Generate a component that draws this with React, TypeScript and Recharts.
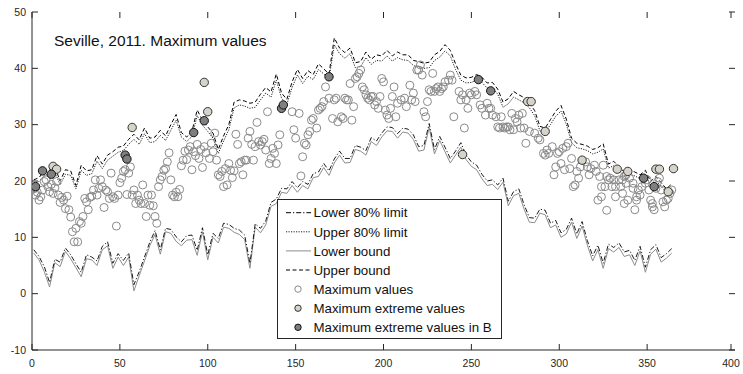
import React from 'react'
import { ComposedChart, Line, Scatter, XAxis, YAxis } from 'recharts'

const WIDTH = 743
const HEIGHT = 374
const PLOT_LEFT = 32
const PLOT_RIGHT = 735
const PLOT_TOP = 12
const PLOT_BOTTOM = 350
const TICK_LEN = 6
const AXIS_COLOR = '#262626'
const FONT = '"Liberation Sans", Arial, Helvetica, sans-serif'

const X_TICKS = [0, 50, 100, 150, 200, 250, 300, 350, 400]
const Y_TICKS = [-10, 0, 10, 20, 30, 40, 50]

// bounds are sampled every third day of the year (1, 4, 7, ... 364)
const BOUND_DAYS = Array.from({ length: 122 }, (_, i) => 1 + 3 * i)

const LOWER_BOUND = [
  7.2, 6.0, 3.9, 1.2, 5.5, 4.8, 7.5, 6.2, 4.6, 3.0,
  6.2, 6.0, 5.0, 7.8, 8.5, 4.5, 6.5, 5.0, 6.5, 0.5,
  3.2, 5.8, 8.5, 10.5, 7.0, 11.0, 10.7, 9.3, 8.5, 9.5,
  9.6, 6.8, 11.0, 6.0, 10.0, 9.0, 11.8, 11.6, 10.9, 10.5,
  9.6, 4.5, 11.8, 10.8, 12.2, 15.5, 16.0, 18.0, 17.8, 19.2,
  18.0, 19.2, 18.6, 20.6, 20.8, 22.4, 21.0, 23.2, 24.6, 23.2,
  23.3, 25.6, 25.3, 24.6, 27.0, 26.3, 27.8, 28.9, 28.8, 27.6,
  28.7, 28.5, 27.4, 25.3, 25.5, 29.5, 24.8, 27.2, 25.2, 23.2,
  24.6, 26.0, 23.8, 22.6, 22.0, 20.4, 19.2, 19.4, 18.5, 19.8,
  15.6, 17.4, 17.8, 15.0, 12.7, 12.6, 14.3, 14.0, 11.7, 12.2,
  10.0, 10.6, 12.7, 9.8, 12.0, 8.6, 5.8, 7.8, 4.5, 8.0,
  7.4, 8.2, 6.6, 6.9, 5.0, 7.6, 3.8, 7.0, 7.9, 5.6,
  6.3, 7.2,
]

const LOWER_80 = [
  7.8, 6.6, 4.8, 2.0, 6.1, 5.6, 8.1, 6.9, 5.3, 3.8,
  6.9, 6.5, 5.8, 8.4, 9.2, 5.4, 7.1, 5.9, 7.2, 1.6,
  3.9, 6.5, 9.1, 11.2, 7.8, 11.6, 11.4, 10.1, 9.2, 10.3,
  10.4, 7.7, 11.7, 6.9, 10.7, 9.8, 12.5, 12.3, 11.6, 11.3,
  10.4, 5.4, 12.4, 11.6, 12.9, 16.2, 16.8, 18.7, 18.6, 19.9,
  18.8, 19.9, 19.4, 21.3, 21.6, 23.1, 21.8, 23.9, 25.3, 24.0,
  24.0, 26.3, 26.0, 25.4, 27.7, 27.1, 28.5, 29.6, 29.5, 28.4,
  29.4, 29.2, 28.2, 26.1, 26.3, 30.2, 25.6, 27.9, 26.0, 24.0,
  25.3, 26.8, 24.6, 23.4, 22.8, 21.2, 20.0, 20.2, 19.3, 20.5,
  16.4, 18.1, 18.6, 15.8, 13.5, 13.4, 15.0, 14.8, 12.5, 13.0,
  10.8, 11.4, 13.4, 10.6, 12.8, 9.4, 6.7, 8.6, 5.4, 8.8,
  8.2, 9.0, 7.4, 7.7, 5.9, 8.4, 4.7, 7.8, 8.7, 6.4,
  7.1, 8.0,
]

const UPPER_BOUND = [
  20.2, 20.6, 21.8, 22.0, 22.5, 20.0, 22.0, 21.8, 19.2, 22.8,
  21.8, 22.0, 24.5, 23.0, 24.6, 25.2, 26.0, 26.2, 27.4, 28.3,
  27.3, 29.4, 27.6, 27.8, 29.0, 28.0, 30.0, 31.8, 28.6, 27.8,
  28.8, 32.6, 30.8, 29.6, 28.5, 25.6, 28.0, 30.0, 34.0, 34.4,
  34.2, 33.8, 34.0, 35.4, 36.6, 35.8, 39.0, 35.6, 34.5, 37.6,
  39.8, 38.2, 39.6, 38.9, 40.8, 39.9, 39.0, 45.4, 43.6, 42.8,
  43.6, 41.0, 41.2, 42.9, 41.6, 42.4, 42.2, 43.2, 42.2, 42.9,
  42.4, 42.4, 41.4, 41.2, 40.9, 41.1, 42.4, 43.0, 44.2, 43.2,
  40.8, 38.8, 38.3, 38.4, 38.9, 38.4, 37.4, 37.5, 36.3, 34.0,
  34.6, 35.9, 35.3, 34.8, 33.9, 32.5, 29.7, 29.4, 30.9, 32.4,
  33.4, 31.0, 27.6, 26.7, 26.5, 26.2, 25.6, 25.9, 26.6, 23.0,
  23.5, 22.5, 21.6, 21.9, 21.6, 21.1, 21.9, 19.9, 20.8, 19.7,
  18.6, 19.5,
]

const UPPER_80 = [
  19.6, 19.9, 21.0, 21.2, 21.6, 19.3, 21.2, 21.0, 18.6, 21.9,
  21.0, 21.3, 23.5, 22.2, 23.7, 24.4, 25.1, 25.4, 26.5, 27.4,
  26.5, 28.4, 26.8, 27.0, 28.1, 27.2, 29.0, 30.8, 27.8, 27.0,
  27.9, 31.6, 29.9, 28.8, 27.6, 24.9, 27.1, 29.1, 33.0, 33.5,
  33.3, 32.9, 33.1, 34.4, 35.6, 34.9, 37.9, 34.7, 33.6, 36.6,
  38.8, 37.3, 38.6, 38.0, 39.8, 39.0, 38.1, 44.2, 42.6, 41.8,
  42.6, 40.1, 40.3, 41.9, 40.7, 41.4, 41.3, 42.2, 41.3, 41.9,
  41.5, 41.4, 40.5, 40.3, 40.0, 40.1, 41.4, 42.0, 43.1, 42.2,
  39.8, 37.9, 37.4, 37.5, 37.9, 37.5, 36.5, 36.6, 35.4, 33.1,
  33.7, 34.9, 34.4, 33.9, 33.0, 31.6, 28.9, 28.6, 30.0, 31.5,
  32.4, 30.1, 26.8, 25.9, 25.7, 25.4, 24.8, 25.1, 25.7, 22.3,
  22.7, 21.8, 20.9, 21.2, 20.9, 20.4, 21.2, 19.2, 20.1, 19.0,
  18.0, 18.8,
]

// daily maximum temperatures, [day, °C]
const MAX_VALUES: [number, number][] = [
  [1, 18.6], [2, 17.5], [3, 18.0], [4, 16.6], [5, 17.2], [6, 18.4], [7, 19.9], [8, 20.2], [9, 19.0], [10, 18.1],
  [11, 19.4], [12, 17.8], [13, 18.8], [14, 19.9], [15, 17.5], [16, 16.2], [17, 17.1], [18, 16.6], [19, 15.1], [20, 17.3],
  [21, 14.9], [22, 13.6], [23, 11.0], [24, 9.2], [25, 11.6], [26, 9.2], [27, 12.8], [28, 12.5], [29, 13.7], [30, 16.9],
  [31, 16.3], [32, 14.9], [33, 17.1], [34, 17.3], [35, 18.4], [36, 20.2], [37, 17.5], [38, 18.7], [39, 20.2], [40, 19.0],
  [41, 15.3], [42, 18.4], [43, 18.1], [44, 16.9], [45, 21.4], [46, 17.2], [47, 16.9], [48, 12.0], [49, 17.5], [50, 19.7],
  [51, 20.5], [52, 21.7], [53, 22.0], [54, 17.6], [55, 21.4], [56, 22.5], [57, 17.5], [58, 18.4], [59, 16.0], [60, 17.5],
  [61, 16.6], [62, 16.0], [63, 19.3], [64, 16.0], [65, 13.7], [66, 17.5], [67, 15.7],
  [68, 17.5], [69, 15.6], [70, 13.7], [71, 12.5], [72, 19.0], [73, 20.2], [74, 20.8], [75, 21.9], [76, 22.2], [77, 23.4],
  [78, 25.0], [79, 20.2], [80, 17.5], [81, 17.2], [82, 18.0], [83, 17.2], [84, 18.5], [85, 22.7], [86, 23.7], [87, 25.3],
  [88, 23.8], [89, 25.5], [90, 26.1], [91, 22.0], [92, 25.2], [93, 24.5], [94, 26.5], [95, 24.0], [96, 25.6], [97, 22.4],
  [98, 26.1], [99, 25.0], [101, 24.0], [102, 26.7], [103, 25.2], [104, 28.5], [105, 23.7], [106, 21.1], [107, 20.8], [108, 21.7],
  [109, 19.0], [110, 22.2], [111, 19.3], [112, 23.1], [113, 21.9], [114, 20.6], [115, 21.8], [116, 28.3], [117, 26.5], [118, 23.1],
  [119, 23.4], [120, 21.1], [121, 23.7], [122, 23.7], [123, 27.6], [124, 28.8], [125, 26.5], [126, 23.7], [127, 26.1], [128, 30.4],
  [129, 27.0], [130, 26.4], [131, 27.0], [132, 27.4], [133, 25.5], [134, 32.3], [135, 23.1], [136, 24.0], [137, 25.8],
  [138, 24.9], [139, 23.1], [140, 26.4], [141, 28.2], [148, 32.3], [149, 29.1], [150, 27.6], [152, 32.0], [153, 20.9], [154, 24.3],
  [155, 26.7], [156, 26.4], [157, 28.2], [158, 28.8], [159, 30.8], [160, 31.1], [162, 29.4], [163, 32.6], [164, 32.9], [165, 33.2],
  [166, 34.1], [167, 36.7], [169, 34.7], [171, 31.1], [172, 34.4], [173, 34.7], [174, 30.5], [176, 31.4], [177, 31.1], [178, 34.7],
  [179, 34.4], [180, 34.4], [181, 37.3], [182, 30.8], [183, 33.2], [184, 38.2], [185, 38.5], [186, 39.1], [187, 39.7], [188, 36.7],
  [189, 36.2], [190, 35.3], [191, 34.7], [192, 34.4], [193, 35.0], [194, 35.0], [195, 33.5], [196, 34.1], [197, 32.9], [198, 35.0],
  [199, 38.2], [200, 37.6], [201, 32.6], [202, 31.7], [203, 31.1], [204, 32.9], [205, 35.0],
  [206, 36.7], [207, 31.4], [208, 33.8], [210, 34.4], [212, 34.7], [213, 33.2], [215, 37.0], [216, 34.4], [217, 35.6], [218, 34.1],
  [219, 39.7], [220, 39.7], [221, 40.6], [222, 38.8], [223, 32.3], [224, 31.4], [225, 34.1], [226, 36.2], [227, 35.9], [228, 39.1],
  [229, 35.9], [230, 36.4], [231, 36.7], [232, 35.9], [233, 36.4], [234, 36.7], [235, 37.6], [237, 37.9], [238, 38.8], [239, 37.9],
  [240, 31.4], [243, 35.9], [244, 34.4], [245, 35.3], [246, 29.4], [247, 34.4], [248, 32.9], [249, 35.6], [250, 35.3], [252, 35.9],
  [253, 35.3], [255, 33.5], [256, 32.9], [258, 31.7], [259, 33.8], [260, 32.9], [261, 32.9], [262, 31.7], [264, 31.4], [265, 29.6],
  [266, 29.4], [267, 31.4], [268, 29.6], [269, 29.4], [270, 29.6], [271, 29.6], [272, 29.1], [274, 29.1],
  [273, 32.0], [275, 31.1], [276, 30.5], [277, 31.7], [278, 29.4], [279, 32.0], [280, 29.4], [281, 26.7], [283, 28.8], [286, 28.5],
  [288, 27.6], [289, 27.3], [291, 24.9], [292, 24.6], [293, 25.5], [294, 24.9], [296, 26.1], [297, 21.1], [298, 22.5], [299, 24.9],
  [300, 25.2], [301, 23.1], [302, 25.8], [303, 22.0], [304, 26.1], [305, 26.7], [306, 22.2], [307, 24.0], [308, 19.0], [309, 19.3],
  [310, 21.7], [311, 20.5], [312, 22.5], [315, 23.4], [316, 22.5], [317, 21.1], [318, 22.2], [320, 22.8], [321, 21.7], [322, 16.6],
  [323, 20.8], [324, 19.0], [325, 22.8], [326, 19.0], [327, 20.8], [328, 20.2], [329, 20.5], [330, 19.0], [331, 20.2], [332, 19.0],
  [334, 20.2], [335, 19.0], [336, 20.2], [337, 20.8], [324, 17.2], [327, 14.8], [332, 17.2], [336, 17.8], [337, 16.0],
  [338, 21.1], [340, 20.5], [342, 19.6], [338, 19.6], [339, 16.6], [342, 18.7], [345, 18.4], [346, 17.5], [344, 16.6], [344, 17.2],
  [343, 14.9], [347, 19.0], [349, 19.6], [350, 20.2], [351, 18.4], [352, 16.6], [353, 15.4], [353, 16.0], [354, 14.9], [355, 18.7],
  [356, 19.9], [357, 20.5], [358, 18.4], [359, 16.3], [360, 15.4], [361, 16.6], [362, 16.9], [363, 17.8], [364, 18.4],
]

const MAX_EXTREME: [number, number][] = [
  [12, 22.6], [14, 22.1], [57, 29.5], [98, 37.5], [100, 32.3], [245, 24.7], [282, 34.1], [284, 34.1],
  [292, 28.8], [313, 23.7], [333, 22.1], [339, 21.7], [355, 22.1], [357, 22.1], [362, 18.1], [365, 22.2],
]

const MAX_EXTREME_B: [number, number][] = [
  [2, 19.0], [6, 21.8], [11, 21.2], [53, 24.6], [54, 23.9], [92, 28.6], [98, 30.7],
  [142, 32.9], [143, 33.5], [169, 38.5], [254, 38.0], [261, 36.0], [348, 20.5], [354, 19.0],
]

const toSeries = (values: number[]) => BOUND_DAYS.map((day, i) => ({ day, value: values[i] }))
const toPoints = (pairs: [number, number][]) => pairs.map(([day, value]) => ({ day, value }))

const LINE_STYLES = {
  lower80: { stroke: '#000', dash: '5 2 1.2 2' },
  upper80: { stroke: '#222', dash: '1.2 1.3' },
  lowerBound: { stroke: '#8c8c8c', dash: undefined },
  upperBound: { stroke: '#000', dash: '4 2.5' },
}

const EXTREME_FILL = '#d6d3c9'
const EXTREME_B_FILL = '#7f7f7f'

function XTick({ x, payload }: any) {
  return (
    <g>
      <line x1={x} x2={x} y1={PLOT_BOTTOM} y2={PLOT_BOTTOM - TICK_LEN} stroke={AXIS_COLOR} />
      <line x1={x} x2={x} y1={PLOT_TOP} y2={PLOT_TOP + TICK_LEN} stroke={AXIS_COLOR} />
      <text x={x} y={PLOT_BOTTOM + 17} textAnchor="middle" fontSize={10.5} fontFamily={FONT} fill={AXIS_COLOR}>
        {payload.value}
      </text>
    </g>
  )
}

function YTick({ y, payload }: any) {
  return (
    <g>
      <line x1={PLOT_LEFT} x2={PLOT_LEFT + TICK_LEN} y1={y} y2={y} stroke={AXIS_COLOR} />
      <line x1={PLOT_RIGHT} x2={PLOT_RIGHT - TICK_LEN} y1={y} y2={y} stroke={AXIS_COLOR} />
      <text x={PLOT_LEFT - 6} y={y} dy="0.35em" textAnchor="end" fontSize={10.5} fontFamily={FONT} fill={AXIS_COLOR}>
        {payload.value}
      </text>
    </g>
  )
}

const openCircle = (props: any) => (
  <circle cx={props.cx} cy={props.cy} r={4} fill="none" stroke="#8a8a8a" strokeWidth={1} />
)
const extremeCircle = (props: any) => (
  <circle cx={props.cx} cy={props.cy} r={4.2} fill={EXTREME_FILL} stroke="#333" strokeWidth={1} />
)
const extremeBCircle = (props: any) => (
  <circle cx={props.cx} cy={props.cy} r={4.2} fill={EXTREME_B_FILL} stroke="#111" strokeWidth={1} />
)

const LEGEND_ROWS = [
  { label: 'Lower 80% limit', kind: 'line', style: LINE_STYLES.lower80 },
  { label: 'Upper 80% limit', kind: 'line', style: LINE_STYLES.upper80 },
  { label: 'Lower bound', kind: 'line', style: LINE_STYLES.lowerBound },
  { label: 'Upper bound', kind: 'line', style: LINE_STYLES.upperBound },
  { label: 'Maximum values', kind: 'dot', fill: '#fff', edge: '#8a8a8a' },
  { label: 'Maximum extreme values', kind: 'dot', fill: EXTREME_FILL, edge: '#333' },
  { label: 'Maximum extreme values in B', kind: 'dot', fill: EXTREME_B_FILL, edge: '#111' },
]

function Overlay() {
  const box = { x: 277.5, y: 199.5, w: 224, h: 139 }
  return (
    <svg
      width={WIDTH}
      height={HEIGHT}
      style={{ position: 'absolute', left: 0, top: 0, pointerEvents: 'none' }}
    >
      <text x={54} y={46} fontSize={15.5} fontFamily={FONT} fill="#111">
        Seville, 2011. Maximum values
      </text>
      <rect x={box.x} y={box.y} width={box.w} height={box.h} fill="#fff" stroke={AXIS_COLOR} strokeWidth={1} />
      {LEGEND_ROWS.map((row: any, i) => {
        const cy = 212.7 + i * 19.1
        return (
          <g key={row.label}>
            {row.kind === 'line' ? (
              <line
                x1={286}
                x2={311}
                y1={cy}
                y2={cy}
                stroke={row.style.stroke}
                strokeDasharray={row.style.dash}
                strokeWidth={1}
              />
            ) : (
              <circle cx={298} cy={cy} r={3.2} fill={row.fill} stroke={row.edge} strokeWidth={1} />
            )}
            <text x={313.5} y={cy + 4.7} fontSize={13.3} fontFamily={FONT} fill="#111">
              {row.label}
            </text>
          </g>
        )
      })}
    </svg>
  )
}

export default function App() {
  return (
    <div style={{ position: 'absolute', left: 0, top: 0, width: WIDTH, height: HEIGHT, background: '#fff' }}>
      <ComposedChart width={WIDTH} height={HEIGHT} margin={{ top: PLOT_TOP, right: WIDTH - PLOT_RIGHT, bottom: 0, left: 0 }}>
        <XAxis
          dataKey="day"
          type="number"
          domain={[0, 400]}
          ticks={X_TICKS}
          height={HEIGHT - PLOT_BOTTOM}
          tickLine={false}
          axisLine={{ stroke: AXIS_COLOR }}
          tick={<XTick />}
          allowDataOverflow
        />
        <XAxis
          xAxisId="top"
          orientation="top"
          type="number"
          domain={[0, 400]}
          height={0}
          tick={false}
          tickLine={false}
          axisLine={{ stroke: AXIS_COLOR }}
        />
        <YAxis
          type="number"
          domain={[-10, 50]}
          ticks={Y_TICKS}
          width={PLOT_LEFT}
          tickLine={false}
          axisLine={{ stroke: AXIS_COLOR }}
          tick={<YTick />}
          allowDataOverflow
        />
        <YAxis
          yAxisId="right"
          orientation="right"
          type="number"
          domain={[-10, 50]}
          width={0}
          tick={false}
          tickLine={false}
          axisLine={{ stroke: AXIS_COLOR }}
        />
        <Line
          data={toSeries(LOWER_BOUND)}
          dataKey="value"
          stroke={LINE_STYLES.lowerBound.stroke}
          strokeWidth={1}
          dot={false}
          activeDot={false}
          isAnimationActive={false}
        />
        <Line
          data={toSeries(LOWER_80)}
          dataKey="value"
          stroke={LINE_STYLES.lower80.stroke}
          strokeDasharray={LINE_STYLES.lower80.dash}
          strokeWidth={0.9}
          dot={false}
          activeDot={false}
          isAnimationActive={false}
        />
        <Line
          data={toSeries(UPPER_80)}
          dataKey="value"
          stroke={LINE_STYLES.upper80.stroke}
          strokeDasharray={LINE_STYLES.upper80.dash}
          strokeWidth={1}
          dot={false}
          activeDot={false}
          isAnimationActive={false}
        />
        <Line
          data={toSeries(UPPER_BOUND)}
          dataKey="value"
          stroke={LINE_STYLES.upperBound.stroke}
          strokeDasharray={LINE_STYLES.upperBound.dash}
          strokeWidth={1}
          dot={false}
          activeDot={false}
          isAnimationActive={false}
        />
        <Scatter data={toPoints(MAX_VALUES)} dataKey="value" shape={openCircle} isAnimationActive={false} />
        <Scatter data={toPoints(MAX_EXTREME)} dataKey="value" shape={extremeCircle} isAnimationActive={false} />
        <Scatter data={toPoints(MAX_EXTREME_B)} dataKey="value" shape={extremeBCircle} isAnimationActive={false} />
      </ComposedChart>
      <Overlay />
    </div>
  )
}
